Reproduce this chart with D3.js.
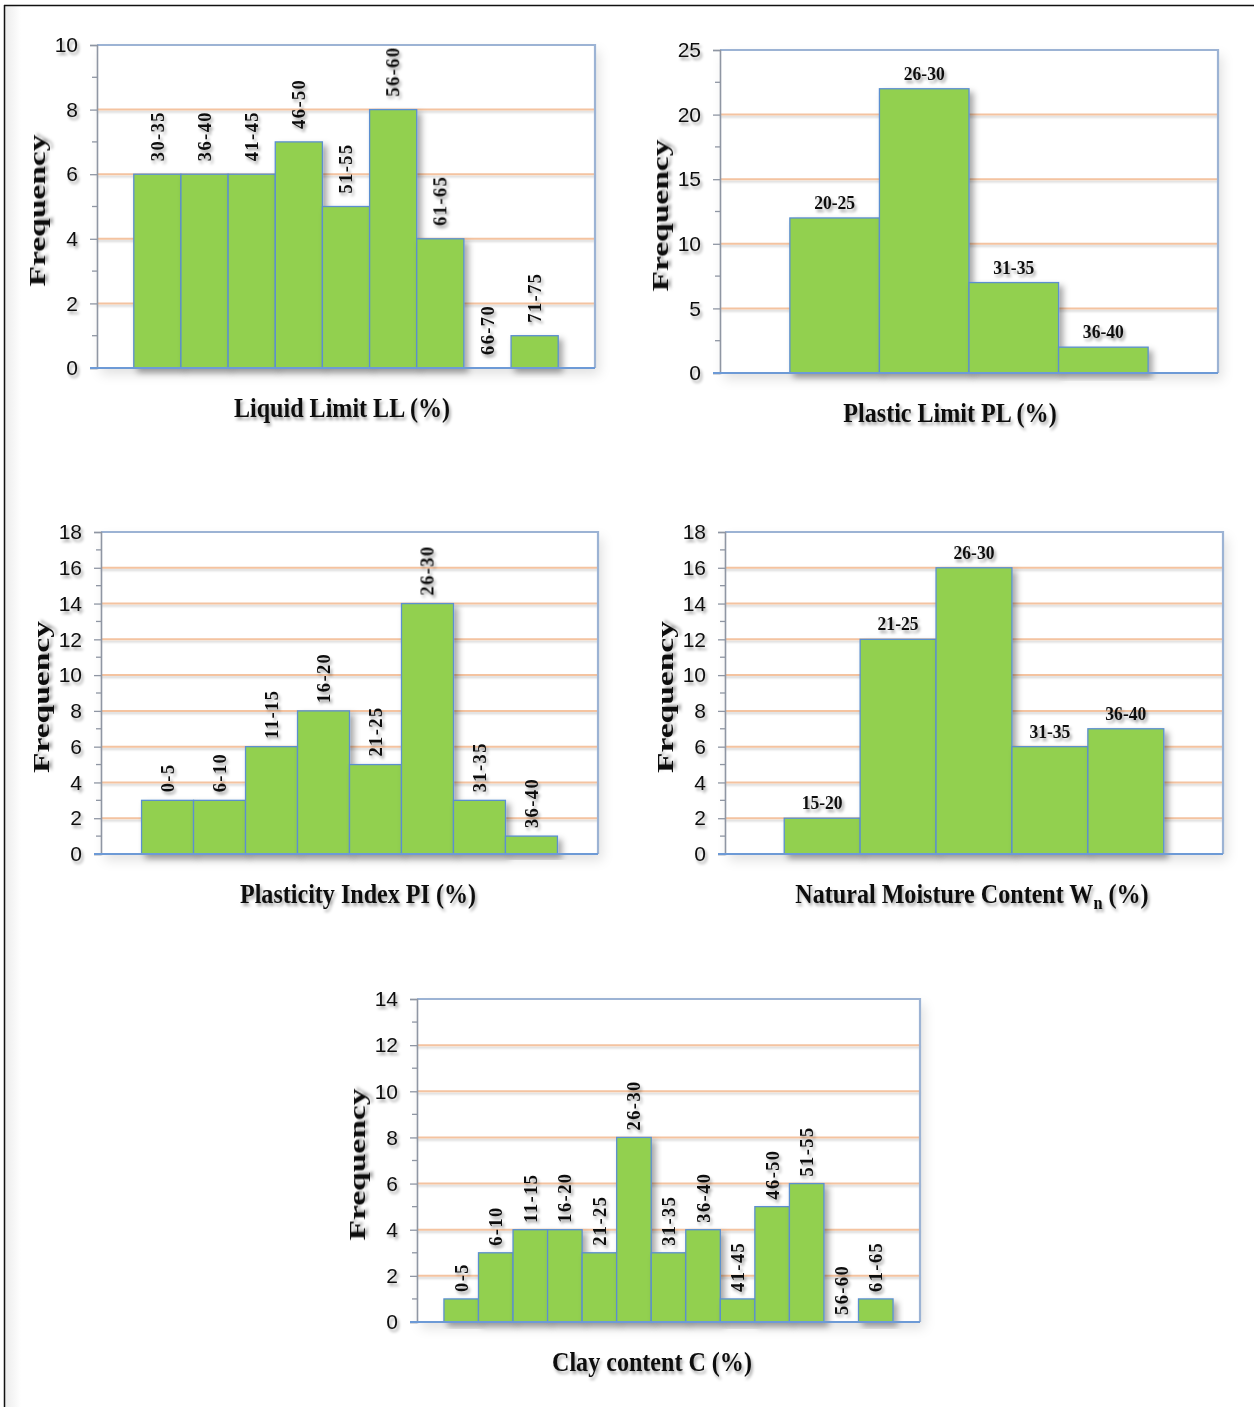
<!DOCTYPE html>
<html>
<head>
<meta charset="utf-8">
<script src="https://cdn.jsdelivr.net/npm/d3@7"></script>
<style>
  html, body { margin: 0; padding: 0; background: #fff; }
  svg { display: block; }
</style>
</head>
<body>
<svg id="chart" width="1254" height="1407"></svg>
<script>
// ---------- DATA ----------
const llCategories = ["30-35","36-40","41-45","46-50","51-55","56-60","61-65","66-70","71-75"];
const llValues     = [6, 6, 6, 7, 5, 8, 4, 0, 1];

const plCategories = ["20-25","26-30","31-35","36-40"];
const plValues     = [12, 22, 7, 2];

const piCategories = ["0-5","6-10","11-15","16-20","21-25","26-30","31-35","36-40"];
const piValues     = [3, 3, 6, 8, 5, 14, 3, 1];

const wnCategories = ["15-20","21-25","26-30","31-35","36-40"];
const wnValues     = [2, 12, 16, 6, 7];

const clayCategories = ["0-5","6-10","11-15","16-20","21-25","26-30","31-35","36-40","41-45","46-50","51-55","56-60","61-65"];
const clayValues     = [1, 3, 4, 4, 3, 8, 3, 4, 1, 5, 6, 0, 1];

const llTicks   = [0, 2, 4, 6, 8, 10];
const plTicks   = [0, 5, 10, 15, 20, 25];
const piTicks   = [0, 2, 4, 6, 8, 10, 12, 14, 16, 18];
const wnTicks   = [0, 2, 4, 6, 8, 10, 12, 14, 16, 18];
const clayTicks = [0, 2, 4, 6, 8, 10, 12, 14];

const yLabel = "Frequency";

// ---------- LAYOUT ----------
const panels = [
  { cats: llCategories, vals: llValues, ticks: llTicks, minor: 1, ymax: 10, gap: 13,
    box: [97, 595, 45, 368], labels: "rot", title: "Liquid Limit LL (%)", titleX: 342, titleScale: 0.86 },
  { cats: plCategories, vals: plValues, ticks: plTicks, minor: 2.5, ymax: 25, gap: 9,
    box: [720, 1218, 50, 373], labels: "hor", title: "Plastic Limit PL (%)", titleX: 950, titleScale: 0.86 },
  { cats: piCategories, vals: piValues, ticks: piTicks, minor: 1, ymax: 18, gap: 8,
    box: [101, 598, 532, 854], labels: "rot", title: "Plasticity Index PI (%)", titleX: 358, titleScale: 0.86 },
  { cats: wnCategories, vals: wnValues, ticks: wnTicks, minor: 1, ymax: 18, gap: 9,
    box: [725, 1223, 532, 854], labels: "hor", title: "Natural Moisture Content W", sub: "n", tail: " (%)", titleX: 972, titleScale: 0.86 },
  { cats: clayCategories, vals: clayValues, ticks: clayTicks, minor: 1, ymax: 14, gap: 7,
    box: [417, 920, 999, 1322], labels: "rot", title: "Clay content C (%)", titleX: 652, titleScale: 0.86 }
];

const svg = d3.select("#chart");
const defs = svg.append("defs");

function shadow(id, dx, dy, sd, op) {
  const f = defs.append("filter").attr("id", id)
    .attr("x", "-20%").attr("y", "-20%").attr("width", "150%").attr("height", "150%");
  f.append("feDropShadow").attr("dx", dx).attr("dy", dy).attr("stdDeviation", sd)
    .attr("flood-color", "#000").attr("flood-opacity", op);
}
shadow("tshadow", 2, 3, 1.6, 0.35);
shadow("bshadow", 4, 4, 3, 0.35);
shadow("gshadow", 0, 2, 1, 0.18);
const pf = defs.append("filter").attr("id", "pshadow")
  .attr("x", "-10%").attr("y", "-10%").attr("width", "120%").attr("height", "125%");
pf.append("feDropShadow").attr("dx", 4).attr("dy", 6).attr("stdDeviation", 6)
  .attr("flood-color", "#000").attr("flood-opacity", 0.12);

// page frame and faint left shading
const lg = defs.append("linearGradient").attr("id", "leftshade").attr("x1", 0).attr("x2", 1);
lg.append("stop").attr("offset", 0).attr("stop-color", "#ececec");
lg.append("stop").attr("offset", 1).attr("stop-color", "#ffffff");
svg.append("rect").attr("x", 5).attr("y", 6).attr("width", 16).attr("height", 1401).attr("fill", "url(#leftshade)");
svg.append("line").attr("x1", 4).attr("x2", 1254).attr("y1", 5.5).attr("y2", 5.5).attr("stroke", "#111").attr("stroke-width", 1.5);
svg.append("line").attr("x1", 4.5).attr("x2", 4.5).attr("y1", 5).attr("y2", 1407).attr("stroke", "#111").attr("stroke-width", 1.5);

const serif = "'Liberation Serif', 'Times New Roman', serif";
const narrow = "'Liberation Sans Narrow', 'Arial Narrow', 'Liberation Sans', sans-serif";

panels.forEach(p => {
  const [L, R, T, B] = p.box;
  const g = svg.append("g");

  const x = d3.scaleBand().domain(p.cats).range([L, R]).paddingInner(0).paddingOuter(0.78);
  const y = d3.scaleLinear().domain([0, p.ymax]).range([B, T]);

  // plot background with soft shadow
  g.append("rect").attr("x", L).attr("y", T).attr("width", R - L).attr("height", B - T)
    .attr("fill", "#fff").attr("filter", "url(#pshadow)");

  // gridlines
  const inner = p.ticks.filter(t => t > 0 && t < p.ymax);
  g.append("g").attr("filter", "url(#gshadow)")
    .selectAll("line").data(inner).join("line")
    .attr("x1", L).attr("x2", R)
    .attr("y1", d => y(d)).attr("y2", d => y(d))
    .attr("stroke", "#f4c3a0").attr("stroke-width", 2);

  // top & right border
  g.append("path")
    .attr("d", `M${L},${T}H${R}V${B}`)
    .attr("fill", "none").attr("stroke", "#9cb3d4").attr("stroke-width", 2.2);

  // bars
  g.append("g").selectAll("rect").data(p.cats.map((c, i) => ({ c, v: p.vals[i] })).filter(d => d.v > 0))
    .join("rect")
    .attr("x", d => x(d.c)).attr("y", d => y(d.v))
    .attr("width", x.bandwidth()).attr("height", d => B - y(d.v))
    .attr("fill", "#92d050").attr("stroke", "#5b8fd0").attr("stroke-width", 1.3)
    .attr("filter", "url(#bshadow)");

  // minor ticks
  const minors = d3.range(0, p.ymax + 1e-9, p.minor).filter(v => !p.ticks.includes(v));
  g.append("g").selectAll("line").data(minors).join("line")
    .attr("x1", L - 5).attr("x2", L).attr("y1", d => y(d)).attr("y2", d => y(d))
    .attr("stroke", "#8f96a3").attr("stroke-width", 1.3);

  // y axis via d3
  const yAxis = d3.axisLeft(y).tickValues(p.ticks).tickSize(7).tickPadding(12).tickFormat(d3.format("d"));
  const ax = g.append("g").attr("transform", `translate(${L},0)`).call(yAxis);
  ax.select(".domain").attr("stroke", "#8f96a3").attr("stroke-width", 1.6);
  ax.selectAll(".tick line").attr("stroke", "#8f96a3").attr("stroke-width", 1.3);
  ax.selectAll(".tick text")
    .attr("font-family", narrow).attr("font-size", 21).attr("fill", "#111")
    .attr("filter", "url(#tshadow)");

  // bottom axis line
  g.append("line").attr("x1", L - 7).attr("x2", R).attr("y1", B).attr("y2", B)
    .attr("stroke", "#6d9ad6").attr("stroke-width", 2);

  // bar labels
  const lab = g.append("g").attr("filter", "url(#tshadow)");
  p.cats.forEach((c, i) => {
    const cx = x(c) + x.bandwidth() / 2;
    const top = y(p.vals[i]);
    if (p.labels === "rot") {
      lab.append("text")
        .attr("transform", `translate(${cx},${top - p.gap}) rotate(-90)`)
        .attr("text-anchor", "start").attr("dy", "0.35em")
        .attr("font-family", serif).attr("font-weight", "bold").attr("font-size", 18.5)
        .attr("letter-spacing", 1.4).attr("fill", "#111")
        .text(c);
    } else {
      lab.append("text")
        .attr("x", cx).attr("y", top - p.gap)
        .attr("text-anchor", "middle")
        .attr("font-family", serif).attr("font-weight", "bold").attr("font-size", 19)
        .attr("textLength", 41).attr("lengthAdjust", "spacingAndGlyphs")
        .attr("fill", "#111")
        .text(c);
    }
  });

  // y label
  g.append("text")
    .attr("transform", `translate(${L - 52},${(T + B) / 2 + 4}) rotate(-90)`)
    .attr("text-anchor", "middle")
    .attr("font-family", serif).attr("font-weight", "bold").attr("font-size", 24)
    .attr("textLength", 152).attr("lengthAdjust", "spacingAndGlyphs")
    .attr("fill", "#111").attr("filter", "url(#tshadow)")
    .text(yLabel);

  // x title (horizontally condensed like the original)
  const tg = g.append("g")
    .attr("transform", `translate(${p.titleX},${B + 49}) scale(${p.titleScale},1)`)
    .attr("filter", "url(#tshadow)");
  const tt = tg.append("text")
    .attr("x", 0).attr("y", 0)
    .attr("text-anchor", "middle")
    .attr("font-family", serif).attr("font-weight", "bold").attr("font-size", 28)
    .attr("fill", "#111");
  tt.append("tspan").text(p.title);
  if (p.sub) {
    tt.append("tspan").attr("font-size", 19).attr("dy", 6).text(p.sub);
    tt.append("tspan").attr("dy", -6).text(p.tail);
  }
});
</script>
</body>
</html>
